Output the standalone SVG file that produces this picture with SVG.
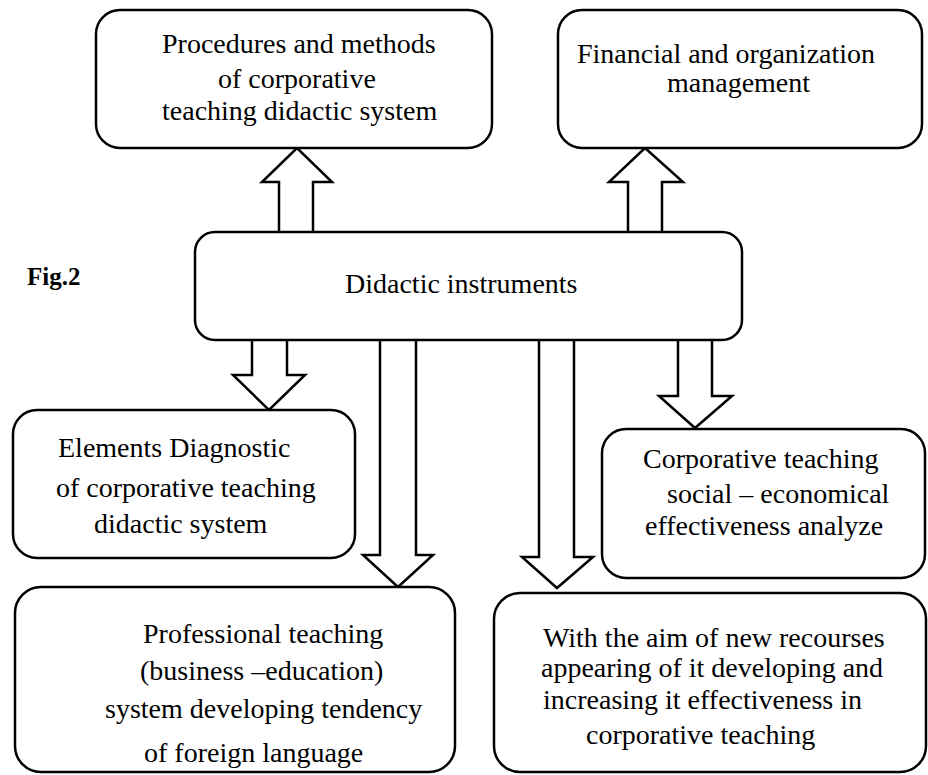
<svg xmlns="http://www.w3.org/2000/svg" width="928" height="775" viewBox="0 0 928 775">
<style>
.box{fill:#fff;stroke:#000;stroke-width:2.5}
.arr{fill:#fff;stroke:#000;stroke-width:2.5;stroke-linejoin:miter}
text{font-family:"Liberation Serif","Times New Roman",serif;font-size:28px;fill:#000}
.fig{font-weight:bold;font-size:25px}
</style>
<rect width="928" height="775" fill="#fff"/>
<g id="connectors">
<polygon class="arr" points="279,234 279,182 262,182 297,148 332,182 313,182 313,234"/>
<polygon class="arr" points="628,234 628,182 609,182 645,148 683,182 662,182 662,234"/>
<polygon class="arr" points="252,338 252,375 233,375 269,410 305,375 287,375 287,338"/>
<polygon class="arr" points="380,338 380,555 363,555 398,587 433,555 416,555 416,338"/>
<polygon class="arr" points="539,338 539,557 522,557 557,588 593,557 574,557 574,338"/>
<polygon class="arr" points="678,338 678,396 659,396 695,428 732,396 712,396 712,338"/>
</g>
<g id="fig-label"><text class="fig" x="27" y="285">Fig.2</text></g>
<g id="procedures">
<rect class="box" x="96" y="10" width="396" height="138" rx="24"/>
<text x="162" y="53">Procedures and methods</text>
<text x="218" y="88">of corporative</text>
<text x="162" y="120">teaching didactic system</text>
</g>
<g id="financial">
<rect class="box" x="558" y="10" width="364" height="138" rx="24"/>
<text x="577" y="63">Financial and organization</text>
<text x="667" y="92">management</text>
</g>
<g id="didactic">
<rect class="box" x="195" y="232" width="547" height="108" rx="20"/>
<text x="345" y="293">Didactic instruments</text>
</g>
<g id="elements">
<rect class="box" x="13" y="410" width="342" height="148" rx="24"/>
<text x="58" y="457">Elements Diagnostic</text>
<text x="56" y="497">of corporative teaching</text>
<text x="94" y="533">didactic system</text>
</g>
<g id="effectiveness">
<rect class="box" x="602" y="429" width="323" height="149" rx="24"/>
<text x="643" y="468">Corporative teaching</text>
<text x="667" y="503">social – economical</text>
<text x="645" y="535">effectiveness analyze</text>
</g>
<g id="professional">
<rect class="box" x="15" y="587" width="440" height="185" rx="26"/>
<text x="143" y="643">Professional teaching</text>
<text x="140" y="680">(business –education)</text>
<text x="105" y="718">system developing tendency</text>
<text x="144" y="762">of foreign language</text>
</g>
<g id="recourses">
<rect class="box" x="494" y="593" width="432" height="179" rx="26"/>
<text x="543" y="647">With the aim of new recourses</text>
<text x="541" y="677">appearing of it developing and</text>
<text x="543" y="709">increasing it effectiveness in</text>
<text x="586" y="744">corporative teaching</text>
</g>
</svg>
